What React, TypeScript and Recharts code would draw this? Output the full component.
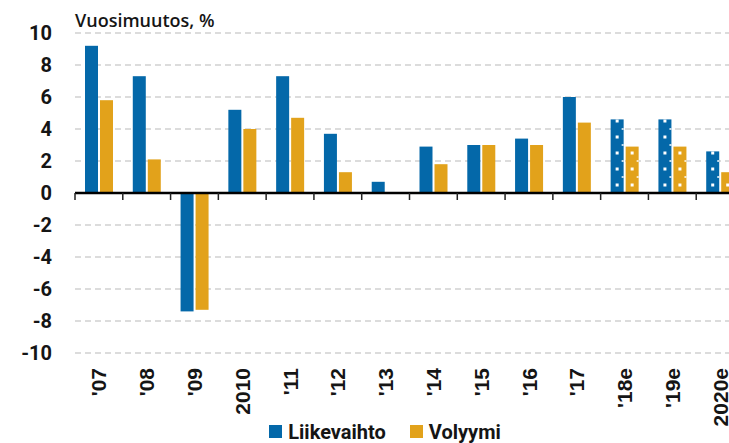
import React from "react";
import {
  BarChart,
  Bar,
  XAxis,
  YAxis,
  CartesianGrid,
  ReferenceLine,
  Legend,
} from "recharts";

const years = ["'07", "'08", "'09", "2010", "'11", "'12", "'13", "'14", "'15", "'16", "'17", "'18e", "'19e", "2020e"];
const liikevaihto = [9.2, 7.3, -7.4, 5.2, 7.3, 3.7, 0.7, 2.9, 3.0, 3.4, 6.0, 4.6, 4.6, 2.6];
const volyymi = [5.8, 2.1, -7.3, 4.0, 4.7, 1.3, 0, 1.8, 3.0, 3.0, 4.4, 2.9, 2.9, 1.3];
const ennuste = [false, false, false, false, false, false, false, false, false, false, false, true, true, true];
const yTicks = [-10, -8, -6, -4, -2, 0, 2, 4, 6, 8, 10];

const BLUE = "#0468A9";
const YELLOW = "#E2A21B";
const TEXT = "#151515";

const data = years.map((vuosi, i) => ({
  vuosi,
  liikevaihto: liikevaihto[i],
  volyymi: volyymi[i],
  ennuste: ennuste[i],
}));

// forecast bars get white dots in the middle + small notches on the right edge
function makeShape(key: "liikevaihto" | "volyymi") {
  return (props: any) => {
    const { x, y, width, height, fill, payload } = props;
    const top = Math.min(y, y + height);
    const h = Math.abs(height);
    const v = Math.abs(payload[key]);
    const parts = [<rect key="bar" x={x} y={top} width={width} height={h} fill={fill} />];
    if (payload.ennuste && v > 0) {
      const unit = h / v;
      const bottom = top + h;
      for (let k = 0; k + 0.5 < v; k++) {
        const cy = bottom - (k + 0.5) * unit;
        parts.push(
          <rect key={"d" + k} x={x + width / 2 - 1.5} y={cy - 1.5} width={3} height={3} fill="#fff" />
        );
      }
      for (let k = 1; k < v; k++) {
        const cy = bottom - k * unit;
        parts.push(
          <rect key={"n" + k} x={x + width - 2} y={cy - 0.75} width={2} height={1.5} fill="#fff" />
        );
      }
    }
    return <g>{parts}</g>;
  };
}

function ZeroLine(props: any) {
  const { x1, x2, y1 } = props;
  const step = (x2 - x1) / years.length;
  const ticks = [];
  for (let i = 0; i <= years.length; i++) {
    const tx = x1 + i * step;
    ticks.push(<line key={i} x1={tx} x2={tx} y1={y1} y2={y1 + 7} stroke="#222" strokeWidth={1.5} />);
  }
  return (
    <g>
      <line x1={x1} x2={x2} y1={y1} y2={y1} stroke="#000" strokeWidth={2.5} />
      {ticks}
    </g>
  );
}

function YearTick({ x, y, payload }: any) {
  return (
    <g transform={`translate(${x},${y})`}>
      <text
        transform="rotate(-90)"
        x={-7}
        y={0}
        dy="0.36em"
        textAnchor="end"
        fontFamily="'Liberation Sans', Arial, sans-serif"
        fontWeight="bold"
        fontSize={21}
        fill={TEXT}
      >
        {payload.value}
      </text>
    </g>
  );
}

function Title({ viewBox }: any) {
  return (
    <text
      x={viewBox.x + viewBox.width}
      y={viewBox.y - 6}
      textAnchor="start"
      fontFamily="'Open Sans', sans-serif"
      fontWeight={600}
      fontSize={18}
      fill={TEXT}
    >
      Vuosimuutos, %
    </text>
  );
}

function LegendContent({ payload }: any) {
  return (
    <div
      style={{
        height: 28,
        boxSizing: "border-box",
        paddingTop: 5,
        paddingLeft: 18,
        display: "flex",
        justifyContent: "center",
        alignItems: "center",
        gap: 24,
        fontFamily: "Roboto, sans-serif",
        fontWeight: 700,
        fontSize: 20,
        color: TEXT,
      }}
    >
      {(payload || []).map((p: any) => (
        <div key={p.value} style={{ display: "flex", alignItems: "center", gap: 6 }}>
          <span style={{ width: 13, height: 13, background: p.color, display: "inline-block" }} />
          <span>{p.value}</span>
        </div>
      ))}
    </div>
  );
}

export default function App() {
  return (
    <>
      <style>{"html, body { margin: 0; overflow: hidden; }"}</style>
      <div style={{ padding: "8px 0 0 8px", width: 721, height: 435, overflow: "hidden" }}>
        <BarChart
          width={736}
          height={435}
          data={data}
          margin={{ top: 25, right: 0, left: 0, bottom: 0 }}
          barSize={13}
          barGap={2}
        >
          <CartesianGrid vertical={false} stroke="#dcdcdc" strokeWidth={2} strokeDasharray="6 4" />
          <XAxis
            dataKey="vuosi"
            axisLine={false}
            tickLine={false}
            height={62}
            interval={0}
            tick={<YearTick />}
          />
          <YAxis
            domain={[-10, 10]}
            ticks={yTicks}
            width={67}
            axisLine={false}
            tickLine={false}
            tickMargin={17}
            tick={{ fontFamily: "Roboto, sans-serif", fontWeight: 700, fontSize: 20, fill: TEXT }}
            label={<Title />}
          />
          <Bar
            dataKey="liikevaihto"
            name="Liikevaihto"
            fill={BLUE}
            shape={makeShape("liikevaihto")}
            isAnimationActive={false}
          />
          <Bar
            dataKey="volyymi"
            name="Volyymi"
            fill={YELLOW}
            shape={makeShape("volyymi")}
            isAnimationActive={false}
          />
          <ReferenceLine y={0} shape={<ZeroLine />} />
          <Legend verticalAlign="bottom" content={<LegendContent />} />
        </BarChart>
      </div>
    </>
  );
}
